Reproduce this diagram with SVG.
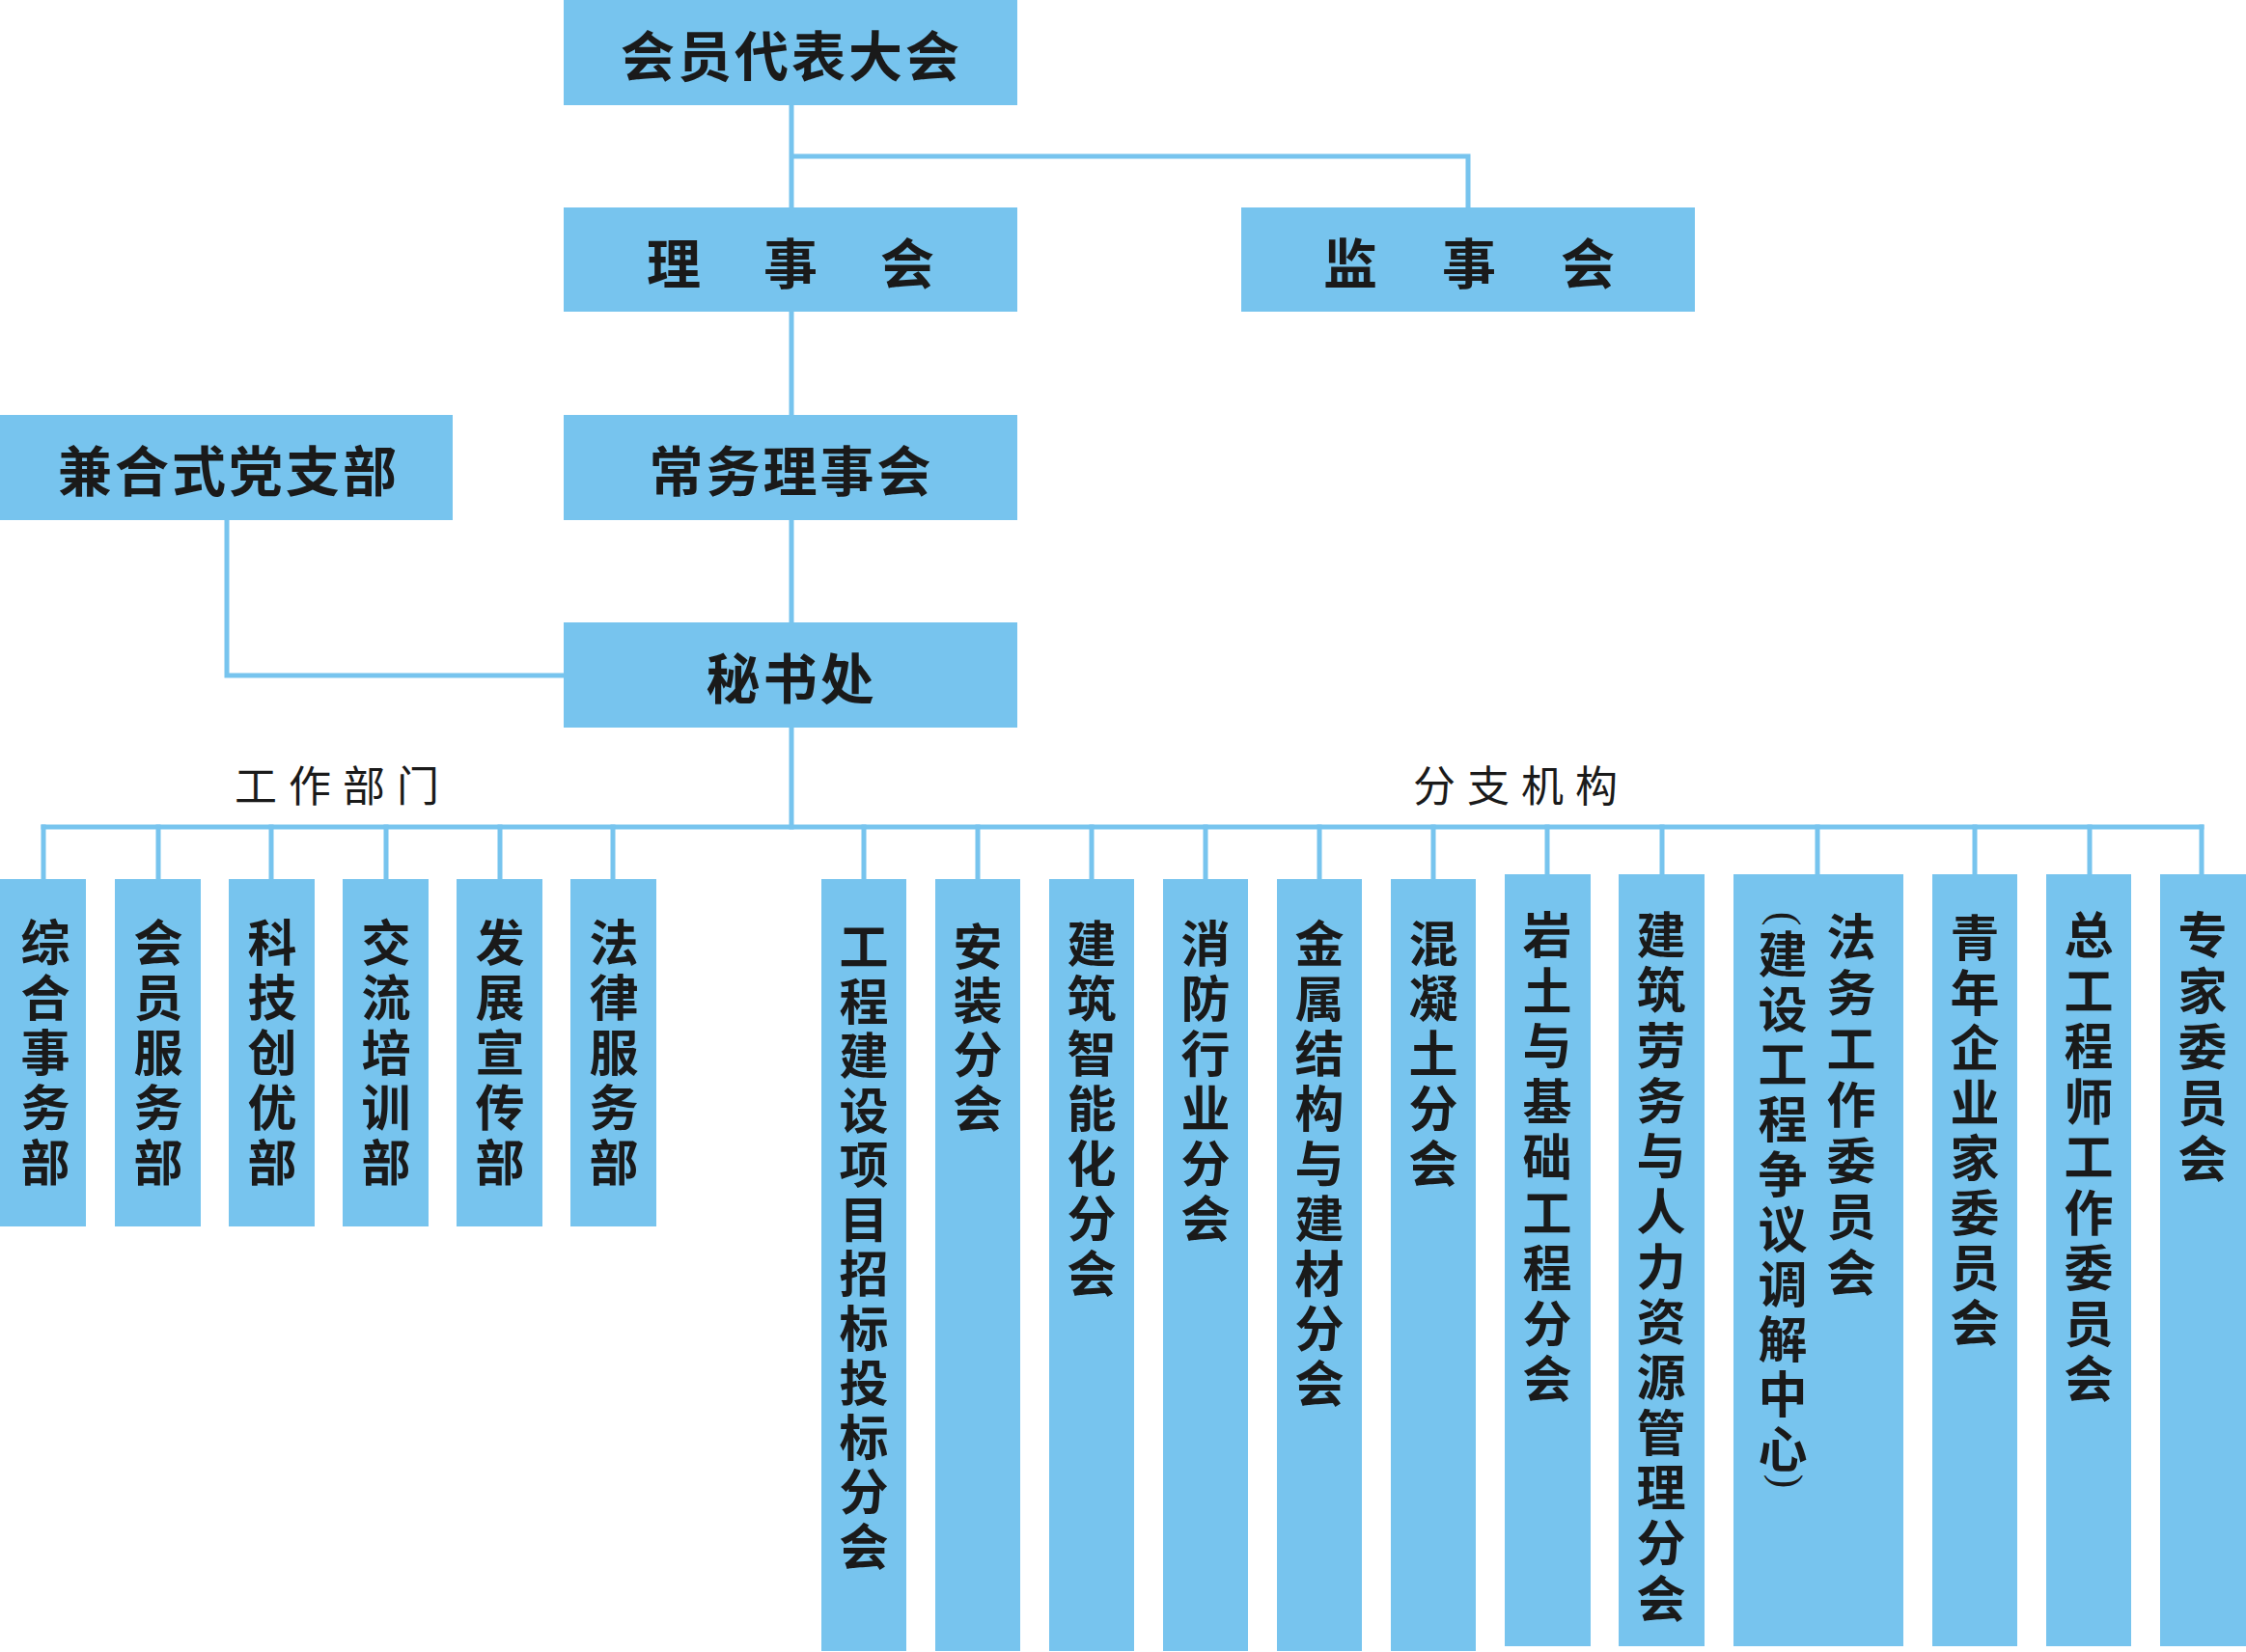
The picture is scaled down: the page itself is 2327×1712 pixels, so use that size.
<svg xmlns="http://www.w3.org/2000/svg" width="2327" height="1712" viewBox="0 0 2327 1712">
<style>
.box{fill:#77C4EE}
.ln{stroke:#77C4EE;stroke-width:5;fill:none;stroke-linecap:square}
.t{font-family:"Noto Sans CJK SC","Noto Sans CJK TC",sans-serif;fill:#1a1a1a;text-anchor:middle;dominant-baseline:central}
.tb{font-size:56px;font-weight:700}
.tc{font-size:51px;font-weight:700}
.th{font-size:44px;font-weight:400;letter-spacing:12px}
.par{font-family:"Liberation Serif",serif;font-size:44px;fill:#1a1a1a;text-anchor:middle}
</style>
<rect width="2327" height="1712" fill="#ffffff"/>
<g id="connectors">
<path class="ln" d="M820 109V215M820 162H1521V215M820 323V430M820 539V645M235 539V700H584M820 754V857"/>
<path class="ln" d="M45 857H2281"/>
<path class="ln" d="M45 857V911M164 857V911M281 857V911M400 857V911M518 857V911M635 857V911"/>
<path class="ln" d="M895 857V911M1013 857V911M1131 857V911M1249 857V911M1367 857V911M1485 857V911M1603 857V906M1722 857V906M1883 857V906M2046 857V906M2165 857V906M2281 857V906"/>
</g>
<g id="n-huiyuandaibiaodahui"><rect class="box" x="584" y="0" width="470" height="109"/><text class="t tb" x="820" y="54" style="letter-spacing:3px">会员代表大会</text></g>
<g id="n-lishihui"><rect class="box" x="584" y="215" width="470" height="108"/><text class="t tb" x="698 819 940" y="269">理事会</text></g>
<g id="n-jianshihui"><rect class="box" x="1286" y="215" width="470" height="108"/><text class="t tb" x="1399 1522 1645" y="269">监事会</text></g>
<g id="n-dangzhibu"><rect class="box" x="0" y="430" width="469" height="109"/><text class="t tb" x="237" y="484" style="letter-spacing:3px">兼合式党支部</text></g>
<g id="n-changwu"><rect class="box" x="584" y="430" width="470" height="109"/><text class="t tb" x="820" y="484" style="letter-spacing:3px">常务理事会</text></g>
<g id="n-mishuchu"><rect class="box" x="584" y="645" width="470" height="109"/><text class="t tb" x="820" y="699" style="letter-spacing:3px">秘书处</text></g>
<g id="labels">
<text class="t th" x="355" y="812">工作部门</text>
<text class="t th" x="1576" y="812">分支机构</text>
</g>
<g id="n-d1"><rect class="box" x="0" y="911" width="89" height="360"/><text class="t tc" x="47 47 47 47 47" y="974 1031 1088 1145 1202">综合事务部</text></g>
<g id="n-d2"><rect class="box" x="119" y="911" width="89" height="360"/><text class="t tc" x="164 164 164 164 164" y="974 1031 1088 1145 1202">会员服务部</text></g>
<g id="n-d3"><rect class="box" x="237" y="911" width="89" height="360"/><text class="t tc" x="282 282 282 282 282" y="974 1031 1088 1145 1202">科技创优部</text></g>
<g id="n-d4"><rect class="box" x="355" y="911" width="89" height="360"/><text class="t tc" x="400 400 400 400 400" y="974 1031 1088 1145 1202">交流培训部</text></g>
<g id="n-d5"><rect class="box" x="473" y="911" width="89" height="360"/><text class="t tc" x="518 518 518 518 518" y="974 1031 1088 1145 1202">发展宣传部</text></g>
<g id="n-d6"><rect class="box" x="591" y="911" width="89" height="360"/><text class="t tc" x="636 636 636 636 636" y="974 1031 1088 1145 1202">法律服务部</text></g>
<g id="n-b1"><rect class="box" x="851" y="911" width="88" height="800"/><text class="t tc" x="895 895 895 895 895 895 895 895 895 895 895 895" y="978 1034.5 1091 1147.5 1204 1260.5 1317 1373.5 1430 1486.5 1543 1599.5">工程建设项目招标投标分会</text></g>
<g id="n-b2"><rect class="box" x="969" y="911" width="88" height="800"/><text class="t tc" x="1013 1013 1013 1013" y="978 1034 1090 1146">安装分会</text></g>
<g id="n-b3"><rect class="box" x="1087" y="911" width="88" height="800"/><text class="t tc" x="1131 1131 1131 1131 1131 1131 1131" y="975 1032 1089 1146 1203 1260 1317">建筑智能化分会</text></g>
<g id="n-b4"><rect class="box" x="1205" y="911" width="88" height="800"/><text class="t tc" x="1249 1249 1249 1249 1249 1249" y="975 1032 1089 1146 1203 1260">消防行业分会</text></g>
<g id="n-b5"><rect class="box" x="1323" y="911" width="88" height="800"/><text class="t tc" x="1367 1367 1367 1367 1367 1367 1367 1367 1367" y="975 1032 1089 1146 1203 1260 1317 1374 1431">金属结构与建材分会</text></g>
<g id="n-b6"><rect class="box" x="1441" y="911" width="88" height="800"/><text class="t tc" x="1485 1485 1485 1485 1485" y="975 1032 1089 1146 1203">混凝土分会</text></g>
<g id="n-b7"><rect class="box" x="1559" y="906" width="89" height="800"/><text class="t tc" x="1603 1603 1603 1603 1603 1603 1603 1603 1603" y="966 1023.5 1081 1138.5 1196 1253.5 1311 1368.5 1426">岩土与基础工程分会</text></g>
<g id="n-b8"><rect class="box" x="1677" y="906" width="89" height="800"/><text class="t tc" x="1721 1721 1721 1721 1721 1721 1721 1721 1721 1721 1721 1721 1721" y="966 1023.3 1080.6 1137.9 1195.2 1252.5 1309.8 1367.1 1424.4 1481.7 1539 1596.3 1653.6">建筑劳务与人力资源管理分会</text></g>
<g id="n-b9"><rect class="box" x="1796" y="906" width="176" height="800"/><text class="t tc" x="1918 1918 1918 1918 1918 1918 1918" y="968 1026 1084 1142 1200 1258 1316">法务工作委员会</text><text class="par" transform="translate(1846,952) rotate(90)" x="0" y="11">(</text><text class="t tc" x="1847 1847 1847 1847 1847 1847 1847 1847 1847 1847" y="986 1043 1100 1157 1214 1271 1328 1385 1442 1499">建设工程争议调解中心</text><text class="par" transform="translate(1848,1535) rotate(90)" x="0" y="11">)</text></g>
<g id="n-b10"><rect class="box" x="2002" y="906" width="88" height="800"/><text class="t tc" x="2046 2046 2046 2046 2046 2046 2046 2046" y="969 1026 1083 1140 1197 1254 1311 1368">青年企业家委员会</text></g>
<g id="n-b11"><rect class="box" x="2120" y="906" width="88" height="800"/><text class="t tc" x="2164 2164 2164 2164 2164 2164 2164 2164 2164" y="966 1023.5 1081 1138.5 1196 1253.5 1311 1368.5 1426">总工程师工作委员会</text></g>
<g id="n-b12"><rect class="box" x="2238" y="906" width="89" height="800"/><text class="t tc" x="2282 2282 2282 2282 2282" y="966 1024 1082 1140 1198">专家委员会</text></g>
</svg>
